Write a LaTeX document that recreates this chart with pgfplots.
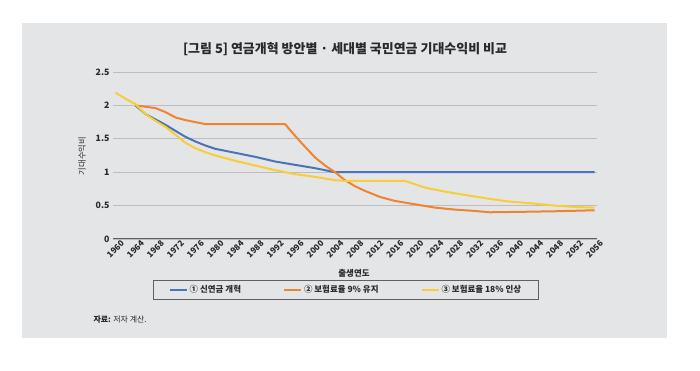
\documentclass[border=0pt]{standalone}
\usepackage{fontspec}
\setmainfont{Noto Sans CJK KR}
\usepackage{pgfplots}
\pgfplotsset{compat=1.18}
\definecolor{panel}{HTML}{E4E5E7}
\definecolor{gridc}{HTML}{BDBDBD}
\definecolor{axisc}{HTML}{606060}
\definecolor{cblue}{HTML}{4A74B5}
\definecolor{corange}{HTML}{EE8430}
\definecolor{cyellow}{HTML}{F8CD3A}
\definecolor{txt}{HTML}{2A2A2A}
\begin{document}
\begin{tikzpicture}
\path[fill=white] (0bp,0bp) rectangle (700bp,371bp);
\fill[panel] (22bp,33bp) rectangle (667bp,348bp);
\node[font=\bfseries\fontsize{13}{16}\selectfont, text=txt] at (345bp,322bp) {[그림 5] 연금개혁 방안별 · 세대별 국민연금 기대수익비 비교};
\node[anchor=west, font=\fontsize{8}{10}\selectfont, text=txt] at (90bp,51bp) {\textbf{자료:} 저자 계산.};
\begin{axis}[
  at={(113bp,132bp)}, anchor=south west,
  scale only axis, width=484bp, height=167bp,
  xmin=1959.5, xmax=2056.5, ymin=0, ymax=2.5,
  xtick={1960,1964,...,2056},
  ytick={0,0.5,1,1.5,2,2.5},
  axis x line=bottom, axis y line=left,
  y axis line style={draw=none},
  x axis line style={draw=axisc, line width=1bp, -},
  major tick length=0pt,
  ymajorgrids, grid style={gridc, line width=0.8bp},
  /pgf/number format/assume math mode=true,
  /pgf/number format/1000 sep={},
  xticklabel style={font=\bfseries\fontsize{8.3}{9}\selectfont, text=txt, yshift=-10bp, rotate=45, anchor=center, inner sep=0pt},
  yticklabel style={font=\bfseries\fontsize{8.8}{10}\selectfont, text=txt},
  xlabel={출생연도}, ylabel={기대수익비},
  every axis x label/.style={at={(0.498,-0.204)}, anchor=center, font=\bfseries\fontsize{8.5}{10}\selectfont, text=txt},
  every axis y label/.style={at={(-0.064,0.497)}, rotate=90, anchor=center, font=\fontsize{8.3}{10}\selectfont, text=txt},
  legend columns=3,
  legend style={at={(0.4814,-0.305)}, anchor=center, draw=axisc, line width=0.9bp, fill=none,
    font=\bfseries\fontsize{8.5}{10}\selectfont, text=txt, inner xsep=15bp, inner ysep=3.5bp,
    /tikz/every even column/.append style={column sep=40bp}},
  legend image code/.code={\draw[#1, line width=2bp] (0bp,0bp) -- (17bp,0bp);},
  every axis plot/.append style={line width=2bp, line join=round},
]
\addplot[cblue] coordinates {
(1964,2.00) (1966,1.87) (1968,1.79) (1970,1.71) (1972,1.62) (1974,1.53) (1976,1.46)
(1978,1.40) (1980,1.35) (1984,1.29) (1988,1.23) (1992,1.16) (1996,1.11) (2000,1.06)
(2004,1.00) (2056,1.00)};
\addlegendentry{① 신연금 개혁}
\addplot[corange] coordinates {
(1964,2.00) (1966,1.98) (1968,1.96) (1970,1.90) (1972,1.82) (1974,1.78) (1976,1.75)
(1978,1.72) (1994,1.72) (1995,1.63) (1997,1.46) (1998,1.38) (2000,1.22) (2002,1.10)
(2004,1.00) (2006,0.88) (2008,0.79) (2010,0.72) (2013,0.63) (2016,0.57) (2020,0.52)
(2024,0.47) (2028,0.44) (2032,0.42) (2035,0.40) (2040,0.405) (2048,0.415) (2056,0.43)};
\addlegendentry{② 보험료율 9\% 유지}
\addplot[cyellow] coordinates {
(1960,2.19) (1962,2.10) (1964,2.02) (1966,1.87) (1968,1.77) (1970,1.68) (1972,1.56)
(1974,1.44) (1976,1.36) (1978,1.30) (1980,1.25) (1984,1.17) (1988,1.10) (1992,1.03)
(1996,0.97) (2000,0.93) (2004,0.88) (2006,0.87) (2018,0.87) (2020,0.82) (2022,0.77)
(2026,0.71) (2030,0.66) (2035,0.60) (2039,0.56) (2044,0.53) (2048,0.50) (2052,0.48) (2056,0.47)};
\addlegendentry{③ 보험료율 18\% 인상}
\end{axis}
\end{tikzpicture}
\end{document}
